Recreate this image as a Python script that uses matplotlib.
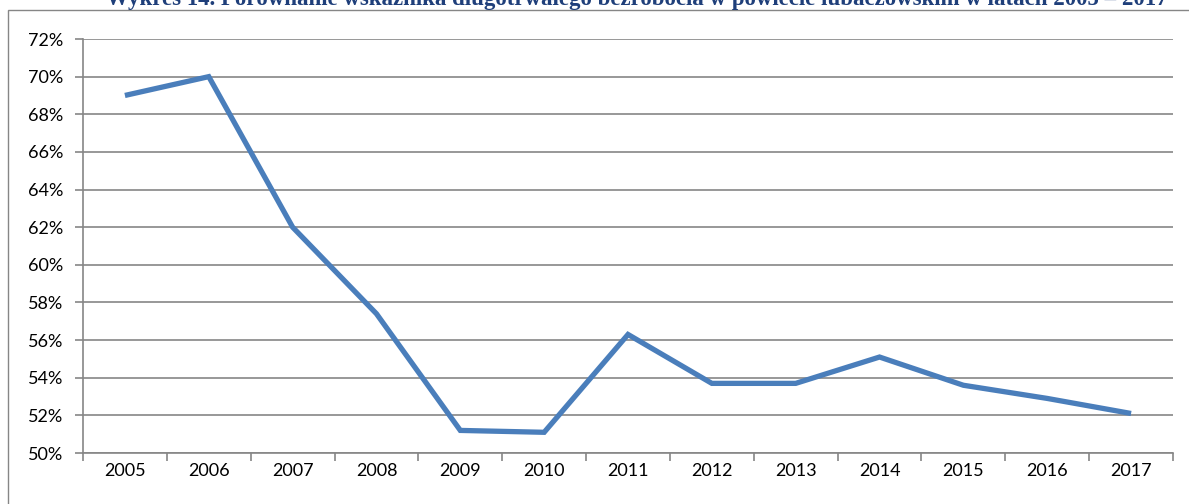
import matplotlib
matplotlib.use("Agg")
import matplotlib.pyplot as plt
from matplotlib.patches import Rectangle
from matplotlib.ticker import FixedLocator

years = ["2005", "2006", "2007", "2008", "2009", "2010", "2011",
         "2012", "2013", "2014", "2015", "2016", "2017"]
values = [69.0, 70.0, 62.0, 57.4, 51.2, 51.1, 56.3,
          53.7, 53.7, 55.1, 53.6, 52.9, 52.1]
y_ticks = [50, 52, 54, 56, 58, 60, 62, 64, 66, 68, 70, 72]
title = "Wykres 14. Porównanie wskaźnika długotrwałego bezrobocia w powiecie lubaczowskim w latach 2005 – 2017"

W, H = 1189, 504
fig = plt.figure(figsize=(W / 100, H / 100), dpi=100)

gray = "#868686"
# outer chart frame
fig.patches.append(Rectangle((8 / W, -0.05), 1.2, (H - 10) / H + 0.05,
                             transform=fig.transFigure, fill=False,
                             edgecolor=gray, linewidth=1.0))

fig.text(637 / W, (H - 5) / H, title, ha="center", va="baseline",
         family="Liberation Serif", fontweight="bold", fontsize=16.5,
         color="#1F3F7A")

left, right, top, bottom = 83, 1173, 39, 453
ax = fig.add_axes([left / W, (H - bottom) / H, (right - left) / W, (bottom - top) / H])

x = list(range(len(years)))
ax.plot(x, values, color="#4A7EBB", linewidth=3.8, solid_joinstyle="miter",
        solid_capstyle="butt", zorder=3)

ax.set_xlim(-0.5, len(years) - 0.5)
ax.set_ylim(50, 72)
ax.set_yticks(y_ticks)
ax.set_yticklabels([f"{t}%" for t in y_ticks])
ax.set_xticks(x)
ax.set_xticklabels(years)
ax.xaxis.set_minor_locator(FixedLocator([i - 0.5 for i in range(len(years) + 1)]))
ax.tick_params(axis="x", which="major", length=0, pad=7)
ax.tick_params(axis="x", which="minor", length=6, color=gray, width=1.2)
ax.tick_params(axis="y", length=6, color=gray, width=1.2, pad=8)
for lbl in ax.get_xticklabels() + ax.get_yticklabels():
    lbl.set_family("Lato")
    lbl.set_fontsize(13)
    lbl.set_color("black")

ax.grid(axis="y", color=gray, linewidth=1.2, zorder=1)
ax.set_axisbelow(True)
for s in ["top", "right"]:
    ax.spines[s].set_visible(False)
for s in ["left", "bottom"]:
    ax.spines[s].set_color(gray)
    ax.spines[s].set_linewidth(1.2)

fig.savefig("out.png", dpi=100)
